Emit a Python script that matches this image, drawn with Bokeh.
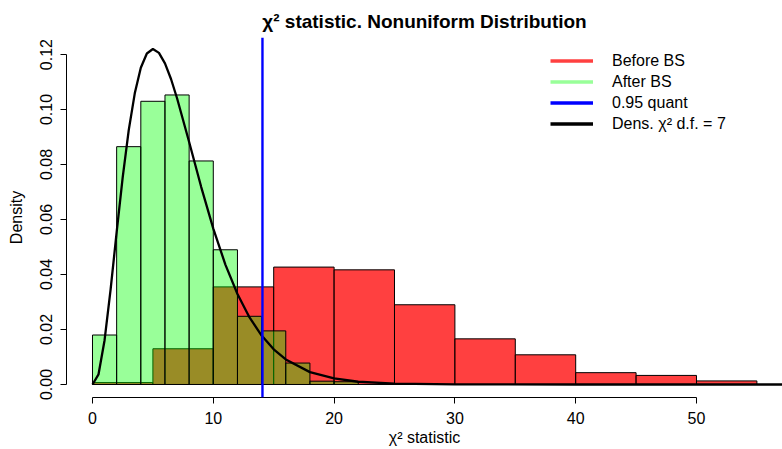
from bokeh.plotting import figure
from bokeh.models import Range1d, FixedTicker, Span, Legend, LegendItem, NumeralTickFormatter
from bokeh.embed import file_html
from bokeh.resources import INLINE

# Data
red_left = [0, 5, 10, 15, 20, 25, 30, 35, 40, 45, 50]
red_right = [5, 10, 15, 20, 25, 30, 35, 40, 45, 50, 55]
red_density = [0.0007, 0.0130, 0.0355, 0.0427, 0.0417, 0.0290, 0.0166, 0.0108, 0.0043, 0.0033, 0.0013]

green_left = [0, 2, 4, 6, 8, 10, 12, 14, 16, 18, 20]
green_right = [2, 4, 6, 8, 10, 12, 14, 16, 18, 20, 22]
green_density = [0.0180, 0.0865, 0.1030, 0.1053, 0.0813, 0.0490, 0.0248, 0.0195, 0.0078, 0.0012, 0.0010]

curve_x = [0, 0.5, 1, 1.5, 2, 2.5, 3, 3.5, 4, 4.5, 5, 5.5, 6, 6.5, 7, 8, 9, 10, 11, 12,
           13, 14, 15, 16, 18, 20, 22, 25, 30, 40, 57.2]
curve_y = [0.0, 0.0037, 0.0161, 0.0346, 0.0554, 0.0753, 0.0925, 0.1059, 0.1152, 0.1204,
           0.1220, 0.1206, 0.1168, 0.1111, 0.1041, 0.0882, 0.0718, 0.0567, 0.0436, 0.0329,
           0.0244, 0.0178, 0.0128, 0.0091, 0.0045, 0.0022, 0.0010, 0.0003, 0.00004, 0.0, 0.0]

quant95 = 14.07
x_ticks = [0, 10, 20, 30, 40, 50]
y_ticks = [0.00, 0.02, 0.04, 0.06, 0.08, 0.10, 0.12]
legend_labels = ["Before BS", "After BS", "0.95 quant", "Dens. χ² d.f. = 7"]
legend_colors = ["#FF4040", "#99FF99", "#0000FF", "#000000"]

FONT = "Liberation Sans"

p = figure(width=782, height=449, output_backend="svg", toolbar_location=None,
           x_range=Range1d(-2.152, 57.12), y_range=Range1d(-0.00473, 0.1262),
           min_border_left=66, min_border_right=0, min_border_top=37, min_border_bottom=52,
           title="χ² statistic. Nonuniform Distribution")
p.title.align = "center"
p.title.text_font = FONT
p.title.text_font_size = "19px"
p.title.text_font_style = "bold"
p.title.text_color = "black"
p.title.standoff = 11
p.outline_line_color = None
p.xgrid.visible = False
p.ygrid.visible = False
p.background_fill_color = "white"

p.quad(left=red_left, right=red_right, bottom=0, top=red_density,
       fill_color="#FF0000", fill_alpha=0.75, line_color="black", line_width=1)
p.quad(left=green_left, right=green_right, bottom=0, top=green_density,
       fill_color="#00FF00", fill_alpha=0.4, line_color="black", line_width=1)
p.line(curve_x, curve_y, line_color="black", line_width=2.3)
p.add_layout(Span(location=quant95, dimension="height", line_color="#0000FF", line_width=2.4))

# legend key lines (kept outside the visible range)
items = []
for lab, col in zip(legend_labels, legend_colors):
    r = p.line(x=[-100, -99], y=[-1, -1], line_color=col, line_width=3.5)
    items.append(LegendItem(label=lab, renderers=[r]))
legend = Legend(items=items, location=(484, 263))
legend.padding = 0
legend.margin = 0
legend.spacing = 0
legend.border_line_color = None
legend.background_fill_alpha = 0
legend.label_height = 21
legend.glyph_height = 21
legend.glyph_width = 43
legend.label_standoff = 19
legend.label_text_font = FONT
legend.label_text_font_size = "16px"
legend.label_text_color = "black"
p.add_layout(legend)

xa = p.xaxis[0]
xa.bounds = (0, 50)
xa.ticker = FixedTicker(ticks=x_ticks)
xa.minor_tick_line_color = None
xa.major_tick_in = 0
xa.major_tick_out = 6
xa.major_label_standoff = 8
xa.major_label_text_font = FONT
xa.major_label_text_font_size = "16px"
xa.major_label_text_color = "black"
xa.axis_label = "χ² statistic"
xa.axis_label_text_font = FONT
xa.axis_label_text_font_size = "16px"
xa.axis_label_text_font_style = "normal"
xa.axis_label_text_color = "black"
xa.axis_label_standoff = 2
xa.axis_line_color = "black"

ya = p.yaxis[0]
ya.bounds = (0, 0.12)
ya.ticker = FixedTicker(ticks=y_ticks)
ya.formatter = NumeralTickFormatter(format="0.00")
ya.minor_tick_line_color = None
ya.major_tick_in = 0
ya.major_tick_out = 6
ya.major_label_orientation = "vertical"
ya.major_label_standoff = 8
ya.major_label_text_font = FONT
ya.major_label_text_font_size = "16px"
ya.major_label_text_color = "black"
ya.axis_label = "Density"
ya.axis_label_text_font = FONT
ya.axis_label_text_font_size = "16px"
ya.axis_label_text_font_style = "normal"
ya.axis_label_text_color = "black"
ya.axis_label_standoff = 13

open("out.html", "w").write(file_html(p, INLINE))
